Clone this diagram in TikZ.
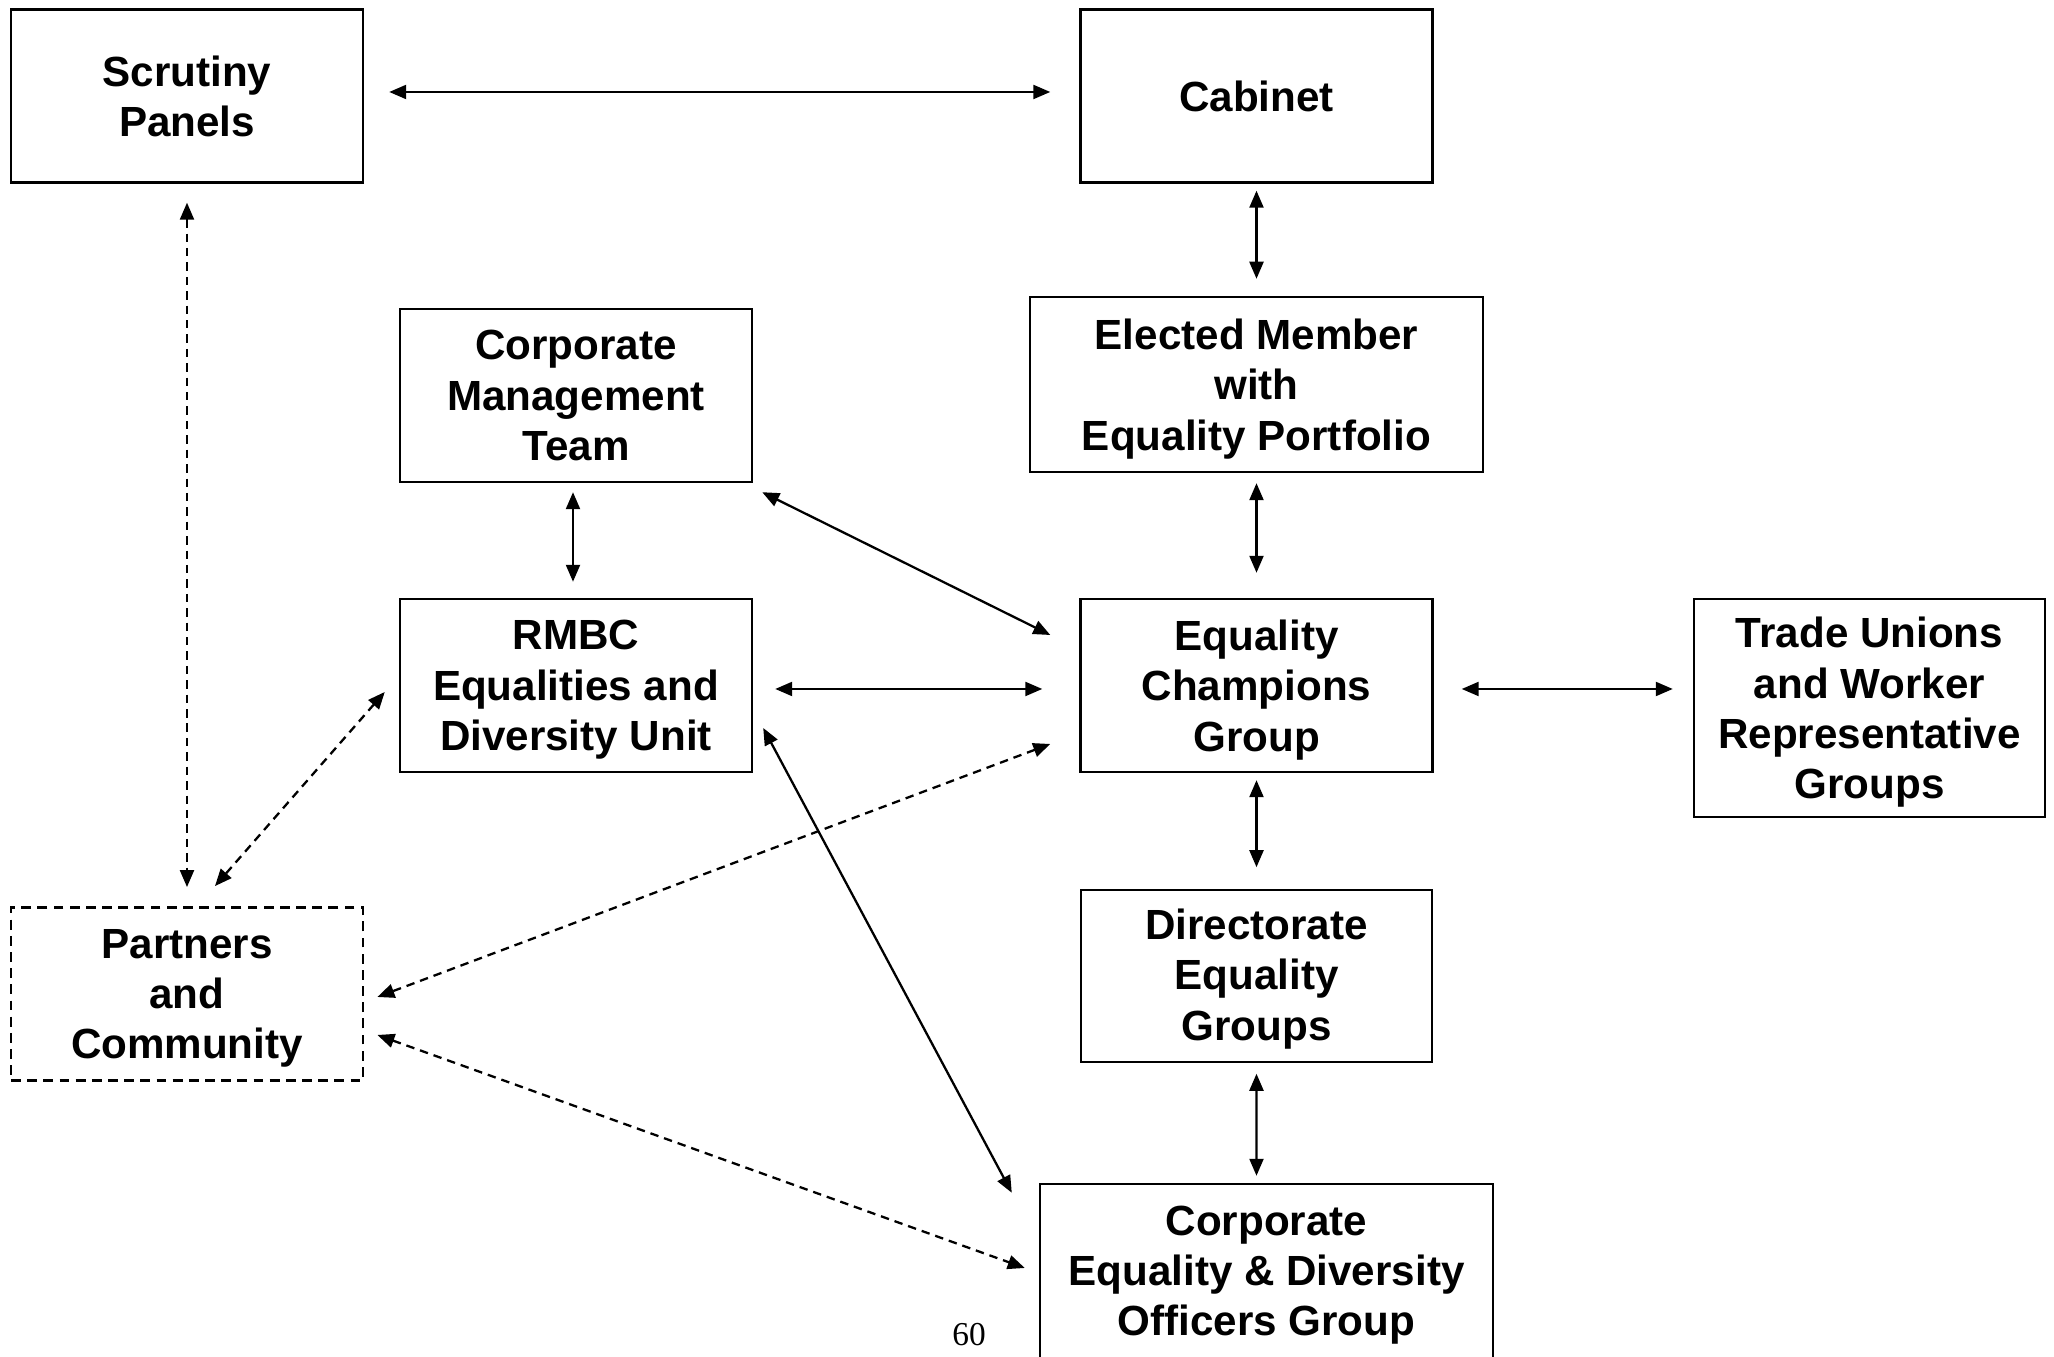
\documentclass[tikz,border=0pt]{standalone}
\usepackage{fontspec}
\setmainfont{Liberation Sans}
\newfontfamily\pagefont{Liberation Serif}
\usetikzlibrary{arrows.meta}

\tikzset{
  box/.style={draw, line width=0.7pt, minimum width=3.52cm, minimum height=1.73cm,
    inner sep=0pt, align=center, text depth=0pt, font=\fontsize{12}{14.3}\selectfont\bfseries},
  partbox/.style={box, dash pattern=on 2.8pt off 1.8pt, line width=0.8pt},
  link/.style={<->, >={Triangle[length=0.17cm,width=0.14cm]}, line width=0.65pt},
  plink/.style={link, dash pattern=on 2.4pt off 1.7pt}
}

\begin{document}
\begin{tikzpicture}
  \useasboundingbox (0,0) rectangle (20.54,13.57);
  % boxes
  \node (scrut) at (1.87,12.61) [box, text depth=-0.08cm] {Scrutiny\\Panels};
  \node (cab) at (12.565,12.61) [box, text depth=] {Cabinet};
  \node (cmt) at (5.76,9.615) [box] {Corporate\\Management\\Team};
  \node (elect) at (12.565,9.725) [box, minimum width=4.53cm, minimum height=1.75cm] {Elected Member\\with\\Equality Portfolio};
  \node (rmbc) at (5.76,6.715) [box] {RMBC\\Equalities and\\Diversity Unit};
  \node (champ) at (12.565,6.715) [box] {Equality\\Champions\\Group};
  \node (union) at (18.695,6.49) [box, minimum width=3.51cm, minimum height=2.18cm] {Trade Unions\\and Worker\\Representative\\Groups};
  \node (partner) at (1.87,3.63) [partbox] {Partners\\and\\Community};
  \node (direct) at (12.565,3.81) [box, line width=0.45pt, minimum width=3.51cm, minimum height=1.72cm, text depth=0.03cm] {Directorate\\Equality\\Groups};
  \node (officer) at (12.665,0.86) [box, minimum width=4.53cm, minimum height=1.74cm] {Corporate\\Equality \& Diversity\\Officers Group};
  \node (pnum) at (9.69,0.22) [font=\pagefont\fontsize{9.5}{11}\selectfont] {60};
  % solid links
  \draw[link] ([shift={(0.25,0.04)}]scrut.east |- cab.west) -- ([shift={(-0.29,0.04)}]cab.west);
  \draw[link] ([yshift=-0.07cm]cab.south) -- ([yshift=0.17cm]elect.north);
  \draw[link] ([shift={(-0.03,-0.09)}]cmt.south) -- ([shift={(-0.03,0.16)}]rmbc.north);
  \draw[link] ([shift={(0.09,-0.09)}]cmt.south east) -- ([shift={(-0.29,0.505)}]champ.west);
  \draw[link] ([yshift=-0.10cm]elect.south) -- ([yshift=0.25cm]champ.north);
  \draw[link] ([shift={(0.22,-0.035)}]rmbc.east) -- ([shift={(-0.37,-0.035)}]champ.west);
  \draw[link] ([shift={(0.28,-0.035)}]champ.east) -- ([shift={(-0.20,-0.035)}]champ.east -| union.west);
  \draw[link] ([yshift=-0.07cm]champ.south) -- ([yshift=0.22cm]direct.north);
  \draw[link] ([yshift=-0.11cm]direct.south) -- ([shift={(-0.10,0.07)}]officer.north);
  \draw[link] ([shift={(0.10,-0.425)}]rmbc.east) -- ([shift={(-0.27,-0.10)}]officer.north west);
  % dashed links
  \draw[plink] ([yshift=-0.19cm]scrut.south) -- ([yshift=0.19cm]partner.north);
  \draw[plink] ([shift={(-0.14,-0.065)}]rmbc.west) -- ([shift={(0.28,0.20)}]partner.north);
  \draw[plink] ([shift={(-0.29,-0.585)}]champ.west) -- ([shift={(0.13,-0.03)}]partner.east);
  \draw[plink] ([shift={(0.13,-0.41)}]partner.east) -- ([shift={(-0.14,0.03)}]officer.west);
\end{tikzpicture}
\end{document}
